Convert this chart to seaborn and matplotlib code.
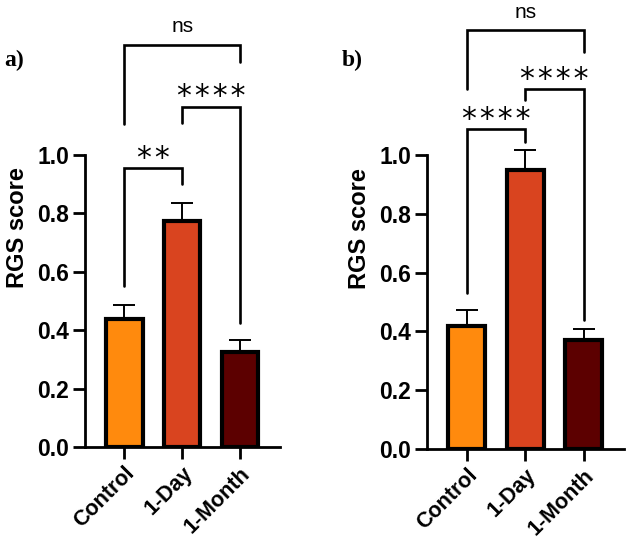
import numpy as np
import pandas as pd
import seaborn as sns
import matplotlib.pyplot as plt

# Данные
groups = ["Control", "1-Day", "1-Month"]
colors = ["#FF8A0D", "#D9441F", "#5C0000"]

mean_a = [0.44, 0.775, 0.325]
err_a = [0.048, 0.062, 0.043]
mean_b = [0.42, 0.95, 0.37]
err_b = [0.052, 0.067, 0.038]

# сравнения: (i, j, y линии, низ левой ножки, низ правой ножки, подпись)
comp_a = [(0, 1, 0.955, 0.55, 0.90, "**"),
          (1, 2, 1.165, 1.11, 0.425, "****"),
          (0, 2, 1.377, 1.105, 1.318, "ns")]
comp_b = [(0, 1, 1.088, 0.53, 1.045, "****"),
          (1, 2, 1.224, 1.187, 0.44, "****"),
          (0, 2, 1.425, 1.224, 1.35, "ns")]

sns.set_style("ticks")
plt.rcParams['font.family'] = ['Liberation Sans', 'DejaVu Sans']
plt.rcParams['text.color'] = 'black'
plt.rcParams['axes.labelcolor'] = 'black'
plt.rcParams['xtick.color'] = 'black'
plt.rcParams['ytick.color'] = 'black'
plt.rcParams['axes.edgecolor'] = 'black'

fig = plt.figure(figsize=(6.29, 5.42), dpi=100)
W, H = 629, 542


def panel(rect, means, errs, comps, letter, letter_xy):
    x0, ybot, x1, ytop = rect
    ax = fig.add_axes([x0 / W, (H - ybot) / H, (x1 - x0) / W, (ybot - ytop) / H])
    df = pd.DataFrame({"group": groups, "score": means})
    sns.barplot(data=df, x="group", y="score", hue="group", palette=colors,
                saturation=1, width=0.63, edgecolor="black", linewidth=3,
                legend=False, ax=ax)
    ax.errorbar(range(3), means, yerr=[[0, 0, 0], errs], fmt="none",
                ecolor="black", elinewidth=1.4, capsize=8, capthick=1.4, zorder=1)
    ax.set_xlim(-0.68, 2.69)
    ax.set_ylim(0, 1.5)
    ax.set_yticks([0, 0.2, 0.4, 0.6, 0.8, 1.0])
    ax.set_yticklabels(["0.0", "0.2", "0.4", "0.6", "0.8", "1.0"],
                       fontsize=16.5, fontweight="bold")
    ax.set_xticks(range(3))
    ax.set_xticklabels(groups, rotation=45, ha="right", rotation_mode="anchor",
                       fontsize=15.5, fontweight="bold")
    ax.set_xlabel("")
    ax.set_ylabel("RGS score", fontsize=17, fontweight="bold", labelpad=6)
    ax.spines["left"].set_bounds(0, 1.0)
    ax.spines["top"].set_visible(False)
    ax.spines["right"].set_visible(False)
    for s in ("left", "bottom"):
        ax.spines[s].set_linewidth(2)
    ax.tick_params(width=2, length=8.5, pad=3)

    for i, j, y, lo_i, lo_j, txt in comps:
        ax.plot([i, i, j, j], [lo_i, y, y, lo_j], color="black", lw=1.9,
                clip_on=False, solid_joinstyle="miter")
        if txt == "ns":
            ax.annotate(txt, xy=((i + j) / 2, y), xytext=(0, 9),
                        textcoords="offset points", ha="center", va="baseline",
                        fontsize=15)
        else:
            ax.annotate("\u200a".join(txt), xy=((i + j) / 2, y), xytext=(0, 1),
                        textcoords="offset points", ha="center", va="baseline",
                        fontsize=21.5, family="DejaVu Sans")
    fig.text(letter_xy[0] / W, 1 - letter_xy[1] / H, letter, fontsize=17,
             fontweight="bold", family="Liberation Serif", ha="left", va="center")
    return ax


panel((85, 447, 280, 9), mean_a, err_a, comp_a, "a)", (4, 60))
panel((427, 449, 624, 8), mean_b, err_b, comp_b, "b)", (342, 60))

plt.savefig("out.png", dpi=100)
